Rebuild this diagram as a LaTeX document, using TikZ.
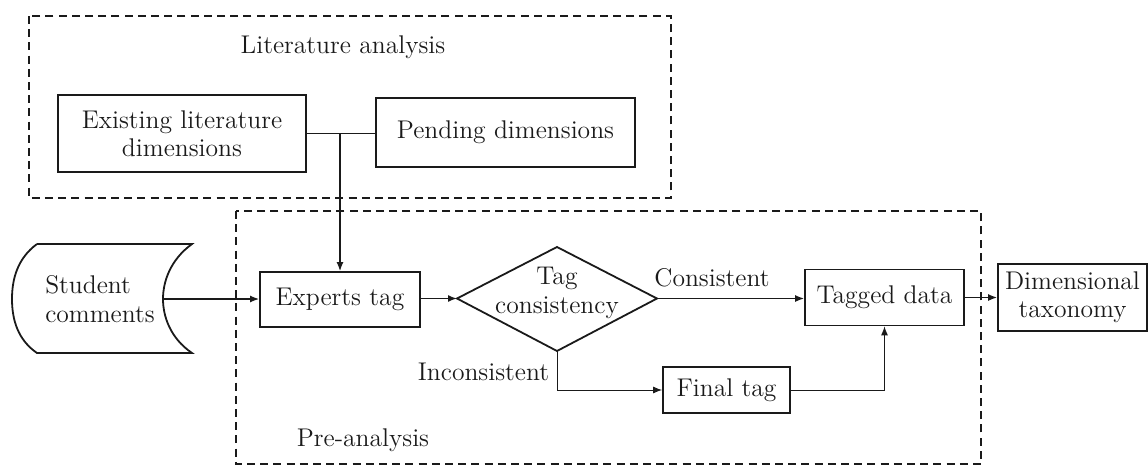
\documentclass[tikz,border=0pt]{standalone}
\usetikzlibrary{arrows.meta}
\definecolor{ink}{HTML}{1A1A1A}
\begin{document}
\begin{tikzpicture}[x=0.5pt,y=-0.5pt,
  every node/.style={font=\fontsize{12.8pt}{14.2pt}\selectfont, text=ink},
  box/.style={draw=ink, line width=0.9pt, align=center, inner sep=0pt},
  frame/.style={draw=ink, line width=0.8pt, dash pattern=on 4pt off 2.6pt},
  arr/.style={draw=ink, line width=0.7pt, -{Latex[length=4.5pt,width=3.5pt]}},
  thinarr/.style={draw=ink, line width=0.45pt, -{Latex[length=4.5pt,width=3.5pt]}},
  plain/.style={draw=ink, line width=0.7pt},
  lbl/.style={inner sep=0pt}]
\useasboundingbox (0,0) rectangle (1148,466);
% frames
\draw[frame] (29,16) rectangle (671,198);
\draw[frame] (236,211) rectangle (981,464);
\node[lbl] (litlbl) at (343,47) {Literature analysis};
\node[lbl] (prelbl) at (363,440) {Pre-analysis};
% literature boxes
\node[box, minimum width=124pt, minimum height=38.5pt] (exist) at (182,133.5) {Existing literature\\dimensions};
\node[box, minimum width=129.5pt, minimum height=34.5pt] (pend) at (505.5,132.5) {Pending dimensions};
% student comments (stored data shape)
\draw[plain, line width=0.9pt] (37,244) -- (192,244)
  .. controls (170,260) and (163,282) .. (163,299)
  .. controls (163,316) and (170,338) .. (192,353)
  -- (37,353)
  .. controls (18,340) and (12,320) .. (12,299)
  .. controls (12,278) and (18,258) .. (37,244);
\coordinate (scr) at (163,299);
\node[lbl, align=left] (stud) at (100,299) {Student\\comments};
% main row
\node[box, minimum width=80pt, minimum height=27.5pt] (exp) at (340,299.5) {Experts tag};
\coordinate (tcL) at (457,298.5);
\coordinate (tcR) at (657,298.5);
\coordinate (tcT) at (557,247);
\coordinate (tcB) at (557,351);
\draw[plain, line width=0.9pt] (tcL) -- (tcT) -- (tcR) -- (tcB) -- cycle;
\node[lbl, align=center] (tc) at (557,293) {Tag\\consistency};
\node[box, minimum width=79.5pt, minimum height=28pt] (tagged) at (884.5,297.5) {Tagged data};
\node[box, minimum width=63.5pt, minimum height=23pt] (final) at (726.5,390) {Final tag};
\node[box, minimum width=74.5pt, minimum height=33.5pt] (dim) at (1072.5,297.5) {Dimensional\\taxonomy};
\node[lbl] (cons) at (712,278) {Consistent};
\node[lbl] (incons) at (483.5,372) {Inconsistent};
% connectors
\coordinate (j) at (exp.north |- exist.east);
\draw[plain] (exist.east) -- (pend.west |- exist.east);
\draw[arr] (j) -- (exp.north);
\draw[arr] (scr) -- (scr -| exp.west);
\draw[arr] (exp.east |- tcL) -- (tcL);
\draw[arr] (tcR) -- (tcR -| tagged.west);
\draw[thinarr] (tcB) |- (final.west);
\draw[thinarr] (final.east) -| (tagged.south);
\draw[arr] (tagged.east) -- (tagged.east -| dim.west);
\end{tikzpicture}
\end{document}
